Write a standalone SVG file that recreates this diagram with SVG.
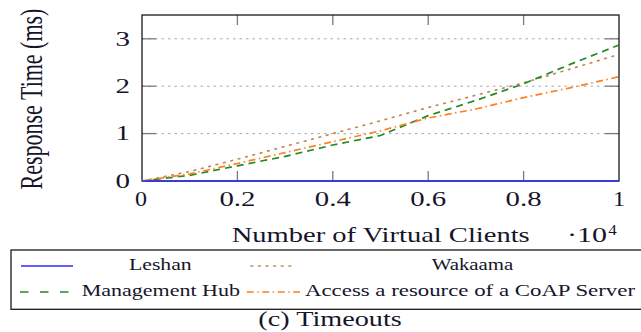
<svg xmlns="http://www.w3.org/2000/svg" width="641" height="332" viewBox="0 0 641 332">
<style>
.t{font-family:"Liberation Serif","Times New Roman",serif;fill:#15152a}
.tick{font-size:20px}
.leg{font-size:17px}
.grid{stroke:#a8a8a8;stroke-width:1;stroke-dasharray:2.5 4;fill:none}
.tk{stroke:#7a7a7a;stroke-width:1.3}
.ser{fill:none;stroke-width:1.7;stroke-linejoin:round}
.leshan{stroke:#2b2bff}
.wakaama{stroke:#c08a55;stroke-dasharray:1.6 6;stroke-linecap:round}
.hub{stroke:#22882a;stroke-dasharray:7 5}
.access{stroke:#ff8020;stroke-dasharray:7 3.5 1.5 3.5}
</style>
<rect width="641" height="332" fill="#fff"/>
<g id="grid">
<line class="grid" x1="142" y1="38.8" x2="619" y2="38.8"/>
<line class="grid" x1="142" y1="86.2" x2="619" y2="86.2"/>
<line class="grid" x1="142" y1="133.6" x2="619" y2="133.6"/>
</g>
<g id="ticks">
<line class="tk" x1="142" y1="38.8" x2="156" y2="38.8"/>
<line class="tk" x1="142" y1="86.2" x2="156" y2="86.2"/>
<line class="tk" x1="142" y1="133.6" x2="156" y2="133.6"/>
<line class="tk" x1="619" y1="38.8" x2="605" y2="38.8"/>
<line class="tk" x1="619" y1="86.2" x2="605" y2="86.2"/>
<line class="tk" x1="619" y1="133.6" x2="605" y2="133.6"/>
<line class="tk" x1="237.4" y1="15" x2="237.4" y2="25"/>
<line class="tk" x1="332.8" y1="15" x2="332.8" y2="25"/>
<line class="tk" x1="428.2" y1="15" x2="428.2" y2="25"/>
<line class="tk" x1="523.6" y1="15" x2="523.6" y2="25"/>
<line class="tk" x1="237.4" y1="181" x2="237.4" y2="171"/>
<line class="tk" x1="332.8" y1="181" x2="332.8" y2="171"/>
<line class="tk" x1="428.2" y1="181" x2="428.2" y2="171"/>
<line class="tk" x1="523.6" y1="181" x2="523.6" y2="171"/>
</g>
<rect id="frame" x="142" y="15" width="477" height="166" fill="none" stroke="#1a1a1a" stroke-width="1.3"/>
<g id="series">
<polyline class="ser wakaama" points="142,181 189.7,171.5 237.4,159.2 285.1,146.4 332.8,133.6 380.5,120.8 428.2,107.5 475.9,95.2 523.6,82.9 571.3,68.7 619,54.4"/>
<polyline class="ser hub" points="142,181 189.7,175.3 237.4,165.8 285.1,156.4 332.8,145.0 380.5,135.5 428.2,115.6 475.9,100.4 523.6,83.8 571.3,63.9 619,45.0"/>
<polyline class="ser access" points="142,181 189.7,173.9 237.4,163.5 285.1,152.6 332.8,141.7 380.5,130.8 428.2,118.0 475.9,109.0 523.6,97.6 571.3,87.6 619,76.7"/>
<line class="ser leshan" x1="142" y1="181" x2="619" y2="181"/>
</g>
<g id="xlabels" class="t tick" text-anchor="middle">
<text x="141" y="206" textLength="12" lengthAdjust="spacingAndGlyphs">0</text>
<text x="237.4" y="206" textLength="36" lengthAdjust="spacingAndGlyphs">0.2</text>
<text x="332.8" y="206" textLength="36" lengthAdjust="spacingAndGlyphs">0.4</text>
<text x="428.2" y="206" textLength="36" lengthAdjust="spacingAndGlyphs">0.6</text>
<text x="523.6" y="206" textLength="36" lengthAdjust="spacingAndGlyphs">0.8</text>
<text x="619" y="206" textLength="12" lengthAdjust="spacingAndGlyphs">1</text>
</g>
<g id="ylabels" class="t tick" text-anchor="end">
<text x="130" y="45.5" textLength="14.5" lengthAdjust="spacingAndGlyphs">3</text>
<text x="130" y="92.8" textLength="14.5" lengthAdjust="spacingAndGlyphs">2</text>
<text x="130" y="140.2" textLength="14.5" lengthAdjust="spacingAndGlyphs">1</text>
<text x="130" y="187.5" textLength="14.5" lengthAdjust="spacingAndGlyphs">0</text>
</g>
<text id="xaxis-title" class="t" x="231.7" y="241.5" font-size="22" textLength="298" lengthAdjust="spacingAndGlyphs">Number of Virtual Clients</text>
<g id="xscale" class="t">
<text x="567" y="241.5" font-size="20" textLength="40" lengthAdjust="spacingAndGlyphs">·10</text>
<text x="608.3" y="235" font-size="15" textLength="8.5" lengthAdjust="spacingAndGlyphs">4</text>
</g>
<text id="yaxis-title" class="t" font-size="22" text-anchor="middle" transform="translate(41.5,99) scale(1.4,1) rotate(-90)">Response Time (ms)</text>
<g id="legend">
<rect x="11" y="250" width="640" height="59.3" fill="none" stroke="#1a1a1a" stroke-width="1.3"/>
<line class="ser leshan" x1="21" y1="266" x2="73" y2="266"/>
<text class="t leg" x="129" y="270" textLength="62.7" lengthAdjust="spacingAndGlyphs">Leshan</text>
<line class="ser wakaama" x1="251" y1="266" x2="296" y2="266"/>
<text class="t leg" x="431.7" y="270" textLength="81.6" lengthAdjust="spacingAndGlyphs">Wakaama</text>
<line class="ser hub" x1="20" y1="292" x2="68.5" y2="292" style="stroke-dasharray:8.5 11.5"/>
<text class="t leg" x="81.7" y="296" textLength="158.3" lengthAdjust="spacingAndGlyphs">Management Hub</text>
<line class="ser access" x1="246.7" y1="292" x2="300" y2="292"/>
<text class="t leg" x="305" y="296" textLength="330" lengthAdjust="spacingAndGlyphs">Access a resource of a CoAP Server</text>
</g>
<text id="caption" class="t" x="258.3" y="326" font-size="21" textLength="143.4" lengthAdjust="spacingAndGlyphs">(c) Timeouts</text>
</svg>
